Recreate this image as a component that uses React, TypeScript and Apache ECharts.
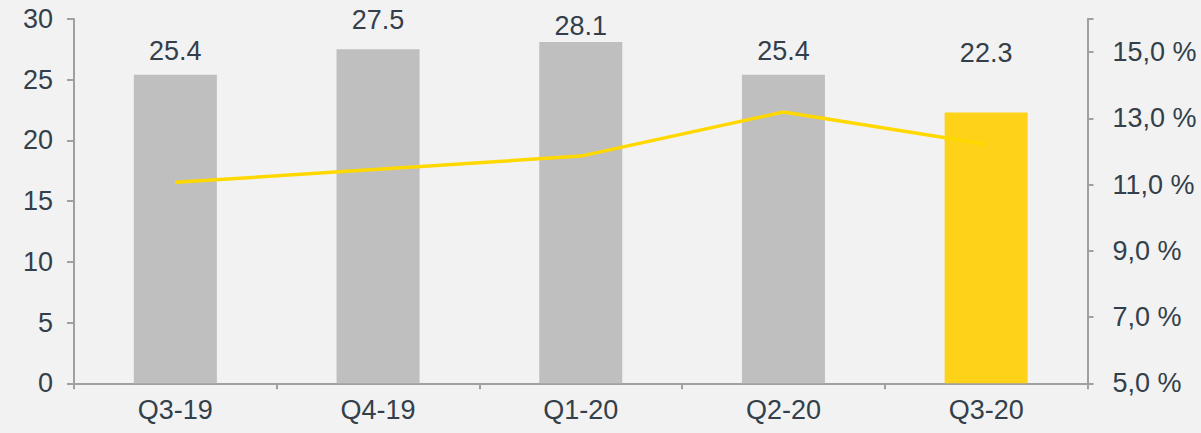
import React, { useEffect, useRef } from "react";
import * as echarts from "echarts";

const categories = ["Q3-19", "Q4-19", "Q1-20", "Q2-20", "Q3-20"];
const barValues = [25.4, 27.5, 28.1, 25.4, 22.3];
const ratioValues = [11.07, 11.46, 11.86, 13.19, 12.22];
const leftTicks = { min: 0, max: 30, interval: 5 };
const rightBase = 5; // right axis starts at 5,0 %
const rightTop = 16;

const labelDistances = [10, 16, 3, 10, 46];
const FONT = "'Liberation Sans', Arial, sans-serif";
const FS = 27;
const TEXT = "#333F4A";
const AXIS = "#A0A0A0";
const GRAY = "#BFBFBF";
const YELLOW_BAR = "#FED219";
const YELLOW_LINE = "#FFD800";

export default function App() {
  const ref = useRef<HTMLDivElement>(null);
  useEffect(() => {
    document.body.style.margin = "0";
    if (!ref.current) return;
    const chart = echarts.init(ref.current, undefined, { renderer: "svg" });
    chart.setOption({
      animation: false,
      backgroundColor: "#F2F2F2",
      textStyle: { fontFamily: FONT },
      grid: { left: 74, right: 113.5, top: 19, bottom: 49.7, containLabel: false },
      xAxis: {
        type: "category",
        data: categories,
        boundaryGap: true,
        axisLine: { show: true, lineStyle: { color: AXIS, width: 2 } },
        axisTick: { show: true, alignWithLabel: false, length: 6, lineStyle: { color: AXIS, width: 2 } },
        axisLabel: { color: TEXT, fontSize: FS, fontFamily: FONT, margin: 13 },
        splitLine: { show: false },
      },
      yAxis: [
        {
          type: "value",
          min: leftTicks.min,
          max: leftTicks.max,
          interval: leftTicks.interval,
          position: "left",
          axisLine: { show: true, lineStyle: { color: AXIS, width: 2 } },
          axisTick: { show: true, length: 7, lineStyle: { color: AXIS, width: 2 } },
          axisLabel: { color: TEXT, fontSize: FS, fontFamily: FONT, margin: 21 },
          splitLine: { show: false },
        },
        {
          type: "value",
          min: 0,
          max: rightTop - rightBase,
          interval: 2,
          position: "right",
          axisLine: { show: true, lineStyle: { color: AXIS, width: 2 } },
          axisTick: { show: true, length: 6, lineStyle: { color: AXIS, width: 2 } },
          axisLabel: {
            color: TEXT,
            fontSize: FS,
            fontFamily: FONT,
            margin: 25,
            formatter: (v: number) =>
              v > rightTop - rightBase - 0.5 ? "" : (v + rightBase).toFixed(1).replace(".", ",") + " %",
          },
          splitLine: { show: false },
        },
      ],
      series: [
        {
          type: "bar",
          yAxisIndex: 0,
          barWidth: 83,
          data: barValues.map((v, i) => ({
            value: v,
            itemStyle: { color: i === barValues.length - 1 ? YELLOW_BAR : GRAY },
            label: { distance: labelDistances[i] },
          })),
          label: {
            show: true,
            position: "top",
            color: TEXT,
            fontSize: FS,
            fontFamily: FONT,
            formatter: (p: any) => Number(p.value).toFixed(1),
          },
          z: 1,
        },
        {
          type: "line",
          yAxisIndex: 1,
          data: ratioValues.map((v) => v - rightBase),
          showSymbol: false,
          symbol: "none",
          lineStyle: { color: YELLOW_LINE, width: 3.5 },
          itemStyle: { color: YELLOW_LINE },
          z: 3,
        },
      ],
    });
    return () => chart.dispose();
  }, []);
  return <div ref={ref} style={{ width: 1201, height: 433 }} />;
}
